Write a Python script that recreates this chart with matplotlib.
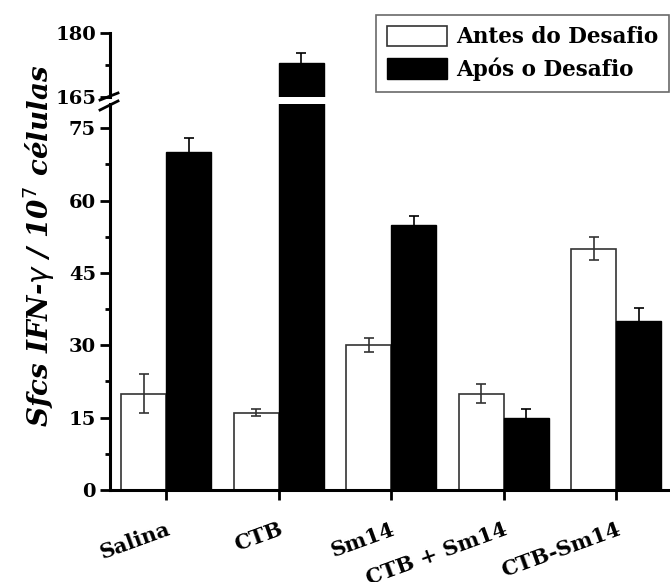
import matplotlib
matplotlib.use("Agg")
import matplotlib.pyplot as plt
import numpy as np
from matplotlib.lines import Line2D
from matplotlib.patches import Patch

categories = ["Salina", "CTB", "Sm14", "CTB + Sm14", "CTB-Sm14"]
antes = [20, 16, 30, 20, 50]
antes_err = [4, 0.7, 1.4, 2, 2.4]
apos = [70, 173, 55, 15, 35]
apos_err = [3, 2.4, 1.8, 1.8, 2.8]
legend_labels = ["Antes do Desafio", "Após o Desafio"]

plt.rcParams['font.family'] = ['DejaVu Serif']
W, H = 670, 582
fig = plt.figure(figsize=(W / 100, H / 100), dpi=100)

left = 110 / W
width = 1 - left
ax = fig.add_axes([left, (H - 490) / H, width, (490 - 104) / H])
axt = fig.add_axes([left, (H - 97) / H, width, 64 / H], sharex=ax)

x = np.arange(len(categories))
bw = 0.4
for a in (ax, axt):
    a.bar(x - bw / 2, antes, bw, color="white", edgecolor="#333333", linewidth=1.2,
          yerr=antes_err, error_kw=dict(ecolor="#333333", elinewidth=1.2, capsize=3.5, capthick=1.2))
    a.bar(x + bw / 2, apos, bw, color="black", edgecolor="black", linewidth=1.0,
          yerr=apos_err, error_kw=dict(ecolor="black", elinewidth=1.2, capsize=3.5, capthick=1.2))
    for s in ("top", "right"):
        a.spines[s].set_visible(False)
    a.spines["left"].set_linewidth(2.2)
    a.tick_params(axis="y", which="major", length=7, width=2, labelsize=14, pad=3)
    a.tick_params(axis="y", which="minor", length=3.5, width=2)

ax.set_xlim(-0.498, 4.48)
ax.set_ylim(0, 80)
ax.set_yticks([0, 15, 30, 45, 60, 75])
ax.set_yticks(np.arange(7.5, 80, 15), minor=True)
ax.spines["bottom"].set_linewidth(2.2)
ax.set_xticks(x)
ax.set_xticklabels(categories, rotation=20, ha="right", rotation_mode="anchor",
                   fontsize=15, fontweight="bold")
ax.tick_params(axis="x", length=7, width=2, pad=14)

axt.set_ylim(165, 180)
axt.set_yticks([165, 180])
axt.set_yticks([172.5], minor=True)
axt.spines["bottom"].set_visible(False)
axt.tick_params(axis="x", bottom=False, labelbottom=False)

for lab in ax.get_yticklabels() + axt.get_yticklabels():
    lab.set_fontweight("bold")

# break marks across the y axis
for y0, y1 in ((100, 93), (110, 101)):
    fig.add_artist(Line2D([100 / W, 118 / W], [(H - y0) / H, (H - y1) / H],
                          transform=fig.transFigure, color="black", lw=2))

fig.text(39 / W, (H - 246) / H, r"Sfcs IFN-$\gamma$ / 10$^7$ células", rotation=90,
         ha="center", va="center", fontsize=20, style="italic", fontweight="bold")

handles = [Patch(facecolor="white", edgecolor="#333333", linewidth=1.2),
           Patch(facecolor="black", edgecolor="black")]
leg = fig.legend(handles, legend_labels, loc="upper right", bbox_to_anchor=(669 / W, 1 - 15 / H),
                 fontsize=15.5, frameon=True, fancybox=False, handlelength=2.8, handleheight=1.1,
                 borderpad=0.5, labelspacing=0.42, handletextpad=0.4, borderaxespad=0)
leg.get_frame().set_edgecolor("#444444")
leg.get_frame().set_linewidth(1.2)
for t in leg.get_texts():
    t.set_fontweight("bold")

fig.savefig("out.png", dpi=100)
